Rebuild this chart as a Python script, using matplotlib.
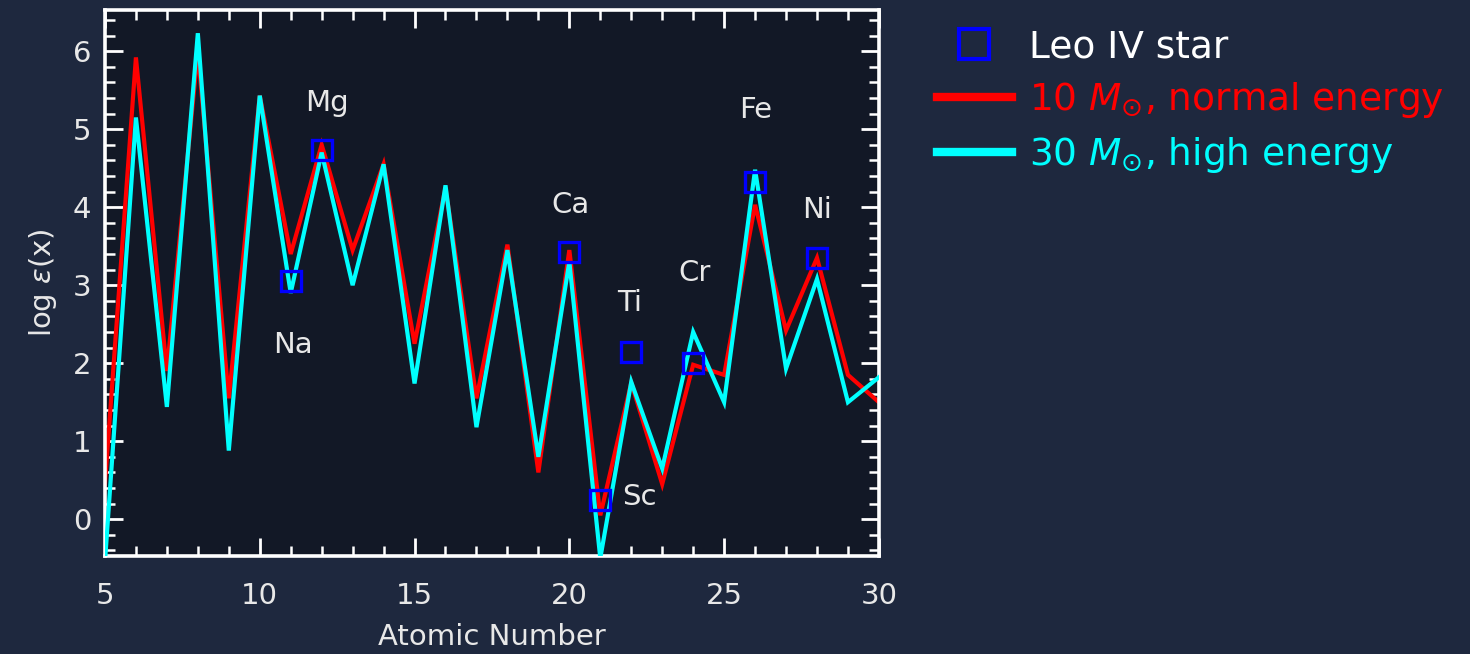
import matplotlib
matplotlib.use("Agg")
import matplotlib.pyplot as plt
from matplotlib.lines import Line2D
from matplotlib.ticker import MultipleLocator

# Atomic numbers and model yields, log eps(x)
atomic_number = list(range(5, 31))
yields_10msun = [0.45, 5.92, 1.90, 6.00, 1.55, 5.43, 3.40, 4.80, 3.45, 4.55,
                 2.25, 4.25, 1.55, 3.52, 0.60, 3.45, 0.05, 1.75, 0.45, 1.98,
                 1.85, 4.03, 2.42, 3.35, 1.85, 1.50]
yields_30msun = [-0.55, 5.15, 1.44, 6.23, 0.88, 5.43, 2.90, 4.70, 3.00, 4.55,
                 1.74, 4.28, 1.18, 3.45, 0.80, 3.30, -0.50, 1.76, 0.65, 2.40,
                 1.50, 4.48, 1.93, 3.08, 1.50, 1.82]

# Leo IV star abundances
star_z = [11, 12, 20, 21, 22, 24, 26, 28]
star_abund = [3.05, 4.73, 3.42, 0.25, 2.15, 2.00, 4.32, 3.35]

# Element labels and their placement (atomic number, log eps)
elem_names = ["Na", "Mg", "Ca", "Sc", "Ti", "Cr", "Fe", "Ni"]
elem_x = [11.06, 12.16, 20.03, 22.26, 21.94, 24.03, 26.03, 28.0]
elem_y = [2.23, 5.33, 4.03, 0.28, 2.77, 3.15, 5.24, 3.96]

legend_labels = ["Leo IV star",
                 r"10 $M_{\odot}$, normal energy",
                 r"30 $M_{\odot}$, high energy"]

bg = "#1e283e"
panel = "#121826"
RED = "#ff0000"
CYAN = "#00ffff"
BLUE = "#0000ff"
TXT = "#e8e8e8"

plt.rcParams["font.family"] = ["DejaVu Sans"]

fig = plt.figure(figsize=(14.70, 6.54), dpi=100, facecolor=bg)
ax = fig.add_axes([0.0714, 0.150, 0.5265, 0.835])
ax.set_facecolor(panel)

ax.plot(atomic_number, yields_10msun, color=RED, lw=3.0, zorder=2,
        solid_joinstyle="miter")
ax.plot(atomic_number, yields_30msun, color=CYAN, lw=3.0, zorder=3,
        solid_joinstyle="miter")
ax.plot(star_z, star_abund, ls="none", marker="s", ms=14, mfc="none",
        mec=BLUE, mew=2.4, zorder=4)

for name, x, y in zip(elem_names, elem_x, elem_y):
    ax.text(x, y, name, color=TXT, fontsize=21, ha="center",
            va="center", zorder=5)

ax.set_xlim(5, 30)
ax.set_ylim(-0.47, 6.53)
ax.xaxis.set_major_locator(MultipleLocator(5))
ax.xaxis.set_minor_locator(MultipleLocator(1))
ax.yaxis.set_major_locator(MultipleLocator(1))
ax.yaxis.set_minor_locator(MultipleLocator(0.2))

for sp in ax.spines.values():
    sp.set_color("white")
    sp.set_linewidth(2.6)

ax.tick_params(which="both", direction="in", colors="white",
               top=True, right=True, labelcolor=TXT)
ax.tick_params(which="major", length=13, width=2.0, labelsize=21)
ax.tick_params(which="minor", length=7, width=1.8)
ax.tick_params(axis="x", which="major", pad=19)
ax.tick_params(axis="y", which="major", pad=10)

ax.set_xlabel("Atomic Number", color=TXT, fontsize=21, labelpad=9)
ax.set_ylabel(r"log $\epsilon$(x)", color=TXT, fontsize=21, labelpad=10)

handles = [
    Line2D([], [], ls="none", marker="s", ms=22, mfc="none", mec=BLUE, mew=3),
    Line2D([], [], color=RED, lw=6),
    Line2D([], [], color=CYAN, lw=6),
]
fig.legend(handles, legend_labels, loc="upper left",
           bbox_to_anchor=(0.6143, 1.007), frameon=False, fontsize=27,
           labelcolor=["white", RED, CYAN], handlelength=2.0,
           handletextpad=0.45, labelspacing=0.4)

fig.savefig("out.png", dpi=100, facecolor=bg)
